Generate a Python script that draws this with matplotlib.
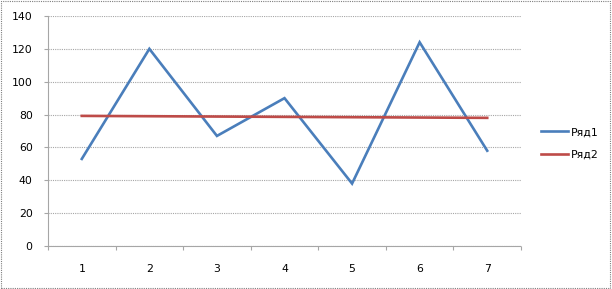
import numpy as np
import matplotlib.pyplot as plt
from matplotlib.patches import Rectangle

plt.rcParams['font.family'] = ['DejaVu Sans']

categories = [1, 2, 3, 4, 5, 6, 7]
series1 = [53, 120, 67, 90, 38, 124, 58]
series2 = [79.2, 79.0, 78.8, 78.6, 78.4, 78.2, 78.0]
labels = ['Ряд1', 'Ряд2']

fig = plt.figure(figsize=(6.12, 2.89), dpi=100)
ax = fig.add_axes([48/612, 1-246/289, (521-48)/612, (246-16)/289])

x = np.arange(len(categories))
ax.plot(x, series1, color='#4a7ebb', lw=1.9, label=labels[0], solid_joinstyle='miter')
ax.plot(x, series2, color='#be4b48', lw=1.9, label=labels[1])

ax.set_xlim(-0.5, len(categories) - 0.5)
ax.set_ylim(0, 140)
ax.set_yticks(np.arange(0, 141, 20))
ax.set_xticks(x)
ax.set_xticklabels([str(c) for c in categories])
ax.set_xticks(np.arange(-0.5, len(categories), 1), minor=True)

ax.grid(axis='y', color='#a6a6a6', linestyle=(0, (1, 1)), lw=0.8)
ax.set_axisbelow(True)
for side in ['top', 'right']:
    ax.spines[side].set_visible(False)
for side in ['left', 'bottom']:
    ax.spines[side].set_color('#a6a6a6')
    ax.spines[side].set_linestyle((0, (1, 1)))
    ax.spines[side].set_linewidth(0.8)

ax.tick_params(axis='x', which='major', length=0, pad=13, labelsize=7.8)
ax.tick_params(axis='x', which='minor', length=3, color='#a6a6a6', width=0.8)
ax.tick_params(axis='y', length=3, color='#a6a6a6', width=0.8, pad=8, labelsize=7.8)

leg = ax.legend(loc='center left', bbox_to_anchor=((541-48)/473, 0.446), frameon=False,
                fontsize=7.8, handlelength=2.5, handletextpad=0.3, labelspacing=1.15,
                borderpad=0, borderaxespad=0)

fig.patches.append(Rectangle((0.002, 0.003), 0.995, 0.993, transform=fig.transFigure,
                             fill=False, edgecolor='#7f7f7f', lw=0.8, linestyle=(0, (1, 1))))

fig.savefig('out.png', dpi=100)
